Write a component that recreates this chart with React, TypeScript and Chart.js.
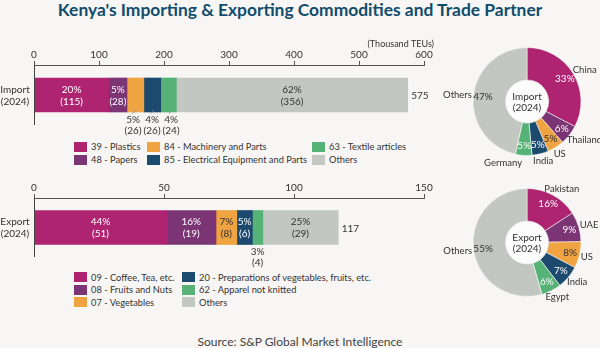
import React, { useEffect, useRef } from "react";
import { Chart, registerables } from "chart.js";

Chart.register(...registerables);

const FONT = "Lato, 'Open Sans', sans-serif";
const BG = "#f7f6f4";
const TEXT = "#333333";
const FS = 10;
Chart.defaults.font.family = FONT;

// ---------- data ----------
const importCategories = [
  "39 - Plastics",
  "48 - Papers",
  "84 - Machinery and Parts",
  "85 - Electrical Equipment and Parts",
  "63 - Textile articles",
  "Others",
];
const importValues = [115, 28, 26, 26, 24, 356];
const importShares = [20, 5, 5, 4, 4, 62];
const importAxisMax = 600;
const importAxisStep = 100;

const exportCategories = [
  "09 - Coffee, Tea, etc.",
  "08 - Fruits and Nuts",
  "07 - Vegetables",
  "20 - Preparations of vegetables, fruits, etc.",
  "62 - Apparel not knitted",
  "Others",
];
const exportValues = [51, 19, 8, 6, 4, 29];
const exportShares = [44, 16, 7, 5, 3, 25];
const exportAxisMax = 150;
const exportAxisStep = 50;

const importPartners = ["China", "Thailand", "US", "India", "Germany", "Others"];
const importPartnerShares = [33, 6, 5, 5, 5, 47];
const exportPartners = ["Pakistan", "UAE", "US", "India", "Egypt", "Others"];
const exportPartnerShares = [16, 9, 8, 7, 6, 55];

const SEG_COLORS = ["#ae2471", "#7b3474", "#efa341", "#1c4a6e", "#56b277", "#c3c7c1"];

function textOn(hex: string) {
  const r = parseInt(hex.slice(1, 3), 16);
  const g = parseInt(hex.slice(3, 5), 16);
  const b = parseInt(hex.slice(5, 7), 16);
  const l = (0.299 * r + 0.587 * g + 0.114 * b) / 255;
  return l > 0.6 ? TEXT : "#ffffff";
}

// ---------- stacked bar panel ----------
type BarProps = {
  categories: string[];
  values: number[];
  shares: number[];
  max: number;
  step: number;
  rowLines: string[];
  unit?: string;
  top: number;
  height: number;
  padTop: number;
  padBottom: number;
};

function BarPanel(p: BarProps) {
  const ref = useRef<HTMLCanvasElement>(null);
  useEffect(() => {
    const total = p.values.reduce((a, b) => a + b, 0);
    const labelPlugin = {
      id: "barLabels",
      afterDatasetsDraw(chart: any) {
        const ctx = chart.ctx;
        const area = chart.chartArea;
        const xs = chart.scales.x;
        ctx.save();
        ctx.font = `${FS}px ${FONT}`;
        ctx.textAlign = "center";
        ctx.textBaseline = "middle";
        const outside: any[] = [];
        let barBottom = 0;
        let barCy = 0;
        chart.data.datasets.forEach((ds: any, i: number) => {
          const el = chart.getDatasetMeta(i).data[0];
          const { x, base, y, height } = el.getProps(["x", "base", "y", "height"], true);
          const left = Math.min(x, base);
          const right = Math.max(x, base);
          const w = right - left;
          const cx = (left + right) / 2;
          barBottom = y + height / 2;
          barCy = y;
          const l1 = `${p.shares[i]}%`;
          const l2 = `(${p.values[i]})`;
          const tw = Math.max(ctx.measureText(l1).width, ctx.measureText(l2).width);
          if (tw <= w - 0.15) {
            ctx.fillStyle = textOn(SEG_COLORS[i]);
            ctx.fillText(l1, cx, y - 5.5);
            ctx.fillText(l2, cx, y + 6.5);
          } else {
            outside.push({ cx, x: cx, l1, l2 });
          }
        });
        // spread outside labels so they do not overlap
        if (outside.length > 1) {
          const minGap = 19;
          const origMean = outside.reduce((a, o) => a + o.cx, 0) / outside.length;
          for (let i = 1; i < outside.length; i++) {
            outside[i].x = Math.max(outside[i].x, outside[i - 1].x + minGap);
          }
          const newMean = outside.reduce((a, o) => a + o.x, 0) / outside.length;
          outside.forEach((o) => (o.x += origMean - newMean));
        }
        outside.forEach((o) => {
          if (outside.length > 1) {
            ctx.strokeStyle = "#888";
            ctx.lineWidth = 0.7;
            ctx.beginPath();
            ctx.moveTo(o.cx + 1.5, barBottom - 2);
            ctx.lineTo(o.x - 1.5, barBottom + 2);
            ctx.stroke();
          }
          ctx.fillStyle = TEXT;
          ctx.fillText(o.l1, o.x, barBottom + 7.5);
          ctx.fillText(o.l2, o.x, barBottom + 18.5);
        });
        // total
        ctx.textAlign = "left";
        ctx.fillStyle = TEXT;
        ctx.fillText(String(total), xs.getPixelForValue(total) + 3.5, barCy + 1);
        // row label
        ctx.textAlign = "center";
        ctx.fillText(p.rowLines[0], area.left / 2 - 2, barCy - 5.5);
        ctx.fillText(p.rowLines[1], area.left / 2 - 2, barCy + 6.5);
        // unit
        if (p.unit) {
          ctx.font = `9px ${FONT}`;
          ctx.textAlign = "right";
          ctx.fillText(p.unit, area.right + 10, area.top - 21);
        }
        // vertical axis line
        const x0 = xs.getPixelForValue(0);
        ctx.strokeStyle = "#444";
        ctx.lineWidth = 1;
        ctx.beginPath();
        ctx.moveTo(Math.round(x0) + 0.5, area.top);
        ctx.lineTo(Math.round(x0) + 0.5, area.bottom);
        ctx.stroke();
        ctx.restore();
      },
    };

    const chart = new Chart(ref.current as HTMLCanvasElement, {
      type: "bar",
      data: {
        labels: [""],
        datasets: p.categories.map((c, i) => ({
          label: c,
          data: [p.values[i]],
          backgroundColor: SEG_COLORS[i],
          borderWidth: 0,
          barThickness: 34,
        })),
      },
      options: {
        responsive: false,
        maintainAspectRatio: false,
        animation: false,
        indexAxis: "y",
        layout: { padding: { left: 34, right: 26, top: p.padTop, bottom: p.padBottom } },
        plugins: { legend: { display: false }, tooltip: { enabled: false } },
        scales: {
          x: {
            stacked: true,
            position: "top",
            min: 0,
            max: p.max,
            ticks: { stepSize: p.step, color: TEXT, font: { size: FS, family: FONT }, padding: 0 },
            grid: { drawOnChartArea: false, tickLength: 4, color: "#555" },
            border: { color: "#555", width: 1 },
            afterFit: (s: any) => {
              s.height = 20;
            },
          },
          y: { stacked: true, display: false },
        },
      } as any,
      plugins: [labelPlugin],
    });
    return () => chart.destroy();
  }, []);
  return (
    <canvas
      ref={ref}
      width={450}
      height={p.height}
      style={{ position: "absolute", left: 0, top: p.top, width: 450, height: p.height }}
    />
  );
}

// ---------- donut panel ----------
type DonutProps = {
  names: string[];
  shares: number[];
  centerLines: string[];
  top: number;
  height: number;
  padTop: number;
};

function DonutPanel(p: DonutProps) {
  const ref = useRef<HTMLCanvasElement>(null);
  useEffect(() => {
    const labelPlugin = {
      id: "donutLabels",
      afterDatasetsDraw(chart: any) {
        const ctx = chart.ctx;
        const arcs = chart.getDatasetMeta(0).data;
        if (!arcs.length) return;
        const a0 = arcs[0];
        const cx = a0.x;
        const cy = a0.y;
        const outerR = a0.outerRadius;
        const innerR = a0.innerRadius;
        ctx.save();
        // hole
        ctx.beginPath();
        ctx.arc(cx, cy, innerR - 0.5, 0, Math.PI * 2);
        ctx.fillStyle = "#fcfcfc";
        ctx.shadowColor = "rgba(0,0,0,0.12)";
        ctx.shadowBlur = 3;
        ctx.fill();
        ctx.shadowColor = "transparent";
        ctx.shadowBlur = 0;
        ctx.font = `${FS}px ${FONT}`;
        ctx.textBaseline = "middle";
        ctx.textAlign = "center";
        ctx.fillStyle = TEXT;
        ctx.fillText(p.centerLines[0], cx, cy - 5);
        ctx.fillText(p.centerLines[1], cx, cy + 6.5);
        // percentage labels
        const geo: any[] = [];
        arcs.forEach((arc: any, i: number) => {
          const mid = (arc.startAngle + arc.endAngle) / 2;
          const ux = Math.cos(mid);
          const uy = Math.sin(mid);
          geo.push({ ux, uy });
          const rp = innerR + (outerR - innerR) * 0.7;
          ctx.textAlign = "center";
          ctx.fillStyle = textOn(SEG_COLORS[i]);
          ctx.fillText(`${p.shares[i]}%`, cx + rp * ux, cy + rp * uy);
        });
        // name labels
        ctx.font = `9.5px ${FONT}`;
        const boxes: any[] = geo.map((g, i) => {
          const R = outerR + 1.5;
          const ax = cx + R * g.ux;
          const ay = cy + R * g.uy;
          const w = ctx.measureText(p.names[i]).width;
          const h = 10;
          const left = ax - (w * (1 - g.ux)) / 2;
          const yc = ay + g.uy * h * 0.6;
          return { name: p.names[i], left, w, yc };
        });
        // resolve overlaps (push later label left of earlier one)
        for (let i = 1; i < boxes.length; i++) {
          for (let k = 0; k < i; k++) {
            const a = boxes[i];
            const b = boxes[k];
            const vOverlap = Math.abs(a.yc - b.yc) < 10;
            const hOverlap = a.left < b.left + b.w && b.left < a.left + a.w;
            if (vOverlap && hOverlap && a.left + a.w / 2 < b.left + b.w / 2) {
              a.left = b.left - 11 - a.w;
            }
          }
        }
        ctx.textAlign = "left";
        ctx.fillStyle = TEXT;
        boxes.forEach((b) => ctx.fillText(b.name, b.left, b.yc));
        ctx.restore();
      },
    };
    const size = 109;
    const cxCanvas = 97;
    const chart = new Chart(ref.current as HTMLCanvasElement, {
      type: "doughnut",
      data: {
        labels: p.names,
        datasets: [
          {
            data: p.shares,
            backgroundColor: SEG_COLORS,
            borderColor: "rgba(255,255,255,0.55)",
            borderWidth: 1,
          },
        ],
      },
      options: {
        responsive: false,
        maintainAspectRatio: false,
        animation: false,
        cutout: "40%",
        layout: {
          padding: {
            left: cxCanvas - size / 2,
            right: 170 - (cxCanvas + size / 2),
            top: p.padTop,
            bottom: p.height - p.padTop - size,
          },
        },
        plugins: { legend: { display: false }, tooltip: { enabled: false } },
      } as any,
      plugins: [labelPlugin],
    });
    return () => chart.destroy();
  }, []);
  return (
    <canvas
      ref={ref}
      width={170}
      height={p.height}
      style={{ position: "absolute", left: 430, top: p.top, width: 170, height: p.height }}
    />
  );
}

// ---------- legend ----------
function Legend(props: {
  items: string[];
  rows: number;
  colWidths: number[];
  left: number;
  top: number;
  rowH: number;
}) {
  return (
    <div
      style={{
        position: "absolute",
        left: props.left,
        top: props.top,
        display: "grid",
        gridAutoFlow: "column",
        gridTemplateRows: `repeat(${props.rows}, ${props.rowH}px)`,
        gridTemplateColumns: props.colWidths.map((w) => `${w}px`).join(" "),
        fontFamily: FONT,
        fontSize: 9.3,
        color: TEXT,
      }}
    >
      {props.items.map((it, i) => (
        <div key={i} style={{ display: "flex", alignItems: "center", whiteSpace: "nowrap" }}>
          <span
            style={{
              display: "inline-block",
              width: 13,
              height: 10,
              background: SEG_COLORS[i],
              marginRight: 4,
              flex: "none",
            }}
          />
          <span>{it}</span>
        </div>
      ))}
    </div>
  );
}

export default function App() {
  return (
    <div
      style={{
        position: "fixed",
        left: 0,
        top: 0,
        width: 600,
        height: 348,
        background: BG,
        overflow: "hidden",
        fontFamily: FONT,
      }}
    >
      <div
        style={{
          position: "absolute",
          top: -0.5,
          left: 0,
          width: 600,
          textAlign: "center",
          fontWeight: 700,
          fontSize: 17.4,
          lineHeight: "20px",
          color: "#114c6c",
        }}
      >
        Kenya's Importing &amp; Exporting Commodities and Trade Partner
      </div>

      <BarPanel
        categories={importCategories}
        values={importValues}
        shares={importShares}
        max={importAxisMax}
        step={importAxisStep}
        rowLines={["Import", "(2024)"]}
        unit="(Thousand TEUs)"
        top={30}
        height={110}
        padTop={15}
        padBottom={15}
      />
      <Legend items={importCategories} rows={2} colWidths={[73, 165, 140]} left={74} top={140} rowH={13} />

      <BarPanel
        categories={exportCategories}
        values={exportValues}
        shares={exportShares}
        max={exportAxisMax}
        step={exportAxisStep}
        rowLines={["Export", "(2024)"]}
        top={165}
        height={105}
        padTop={13}
        padBottom={13}
      />
      <Legend items={exportCategories} rows={3} colWidths={[108, 250]} left={74} top={271} rowH={12.5} />

      <DonutPanel
        names={importPartners}
        shares={importPartnerShares}
        centerLines={["Import", "(2024)"]}
        top={40}
        height={140}
        padTop={7}
      />
      <DonutPanel
        names={exportPartners}
        shares={exportPartnerShares}
        centerLines={["Export", "(2024)"]}
        top={175}
        height={150}
        padTop={13}
      />

      <div
        style={{
          position: "absolute",
          top: 334,
          left: 0,
          width: 600,
          textAlign: "center",
          fontSize: 12,
          lineHeight: "16px",
          color: "#444",
        }}
      >
        Source: S&amp;P Global Market Intelligence
      </div>
    </div>
  );
}
